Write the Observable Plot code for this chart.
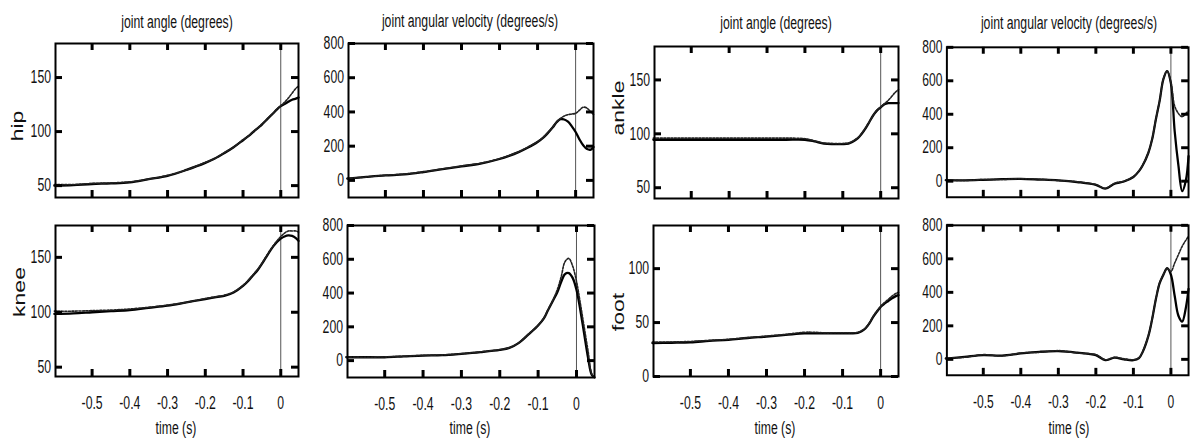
<!DOCTYPE html>
<html>
<head>
<meta charset="utf-8">
<script src="https://cdn.jsdelivr.net/npm/d3@7"></script>
<script src="https://cdn.jsdelivr.net/npm/@observablehq/plot@0.6"></script>
<style>
  body { margin: 0; background: #fff; }
  #root { position: relative; width: 1192px; height: 442px; overflow: hidden; background: #fff;
          font-family: "Liberation Sans", Arial, sans-serif; color: #111; }
  .p { position: absolute; }
  .t { position: absolute; font-size: 18px; white-space: nowrap; line-height: 1;
       transform: translate(-50%, -50%) scaleX(0.68); }
  .r { position: absolute; font-size: 23px; white-space: nowrap; line-height: 1;
       transform: translate(-50%, -50%) rotate(-90deg) scaleY(0.75); }
</style>
</head>
<body>
<div id="root"></div>
<script>
// ---------------- data ----------------
const time = [-0.6, -0.55, -0.5, -0.45, -0.4, -0.35, -0.3, -0.25, -0.2, -0.175, -0.15, -0.125, -0.1, -0.085, -0.075, -0.06, -0.05, -0.04, -0.03, -0.02, -0.01, 0, 0.01, 0.02, 0.03, 0.04, 0.047];

const hipAngleSolid   = [50, 50.5, 51.5, 52, 53, 56, 59, 64.5, 71, 75, 80, 85.5, 92, 96, 99, 103.5, 106.5, 110, 113.5, 117, 120.5, 123.5, 125.5, 127.5, 129.5, 130.5, 131.5];
const hipAngleDotted  = [51, 51, 52, 52.5, 53.5, 56, 59.5, 64.5, 71.5, 75, 80.5, 85.5, 92.5, 96, 99.5, 103.5, 107, 110, 114, 117, 121, 124, 127, 131, 135.5, 140, 142];
const hipVelSolid     = [10, 20, 29, 35, 49, 66, 82, 98, 125, 143, 165, 192, 224, 250, 272, 310, 340, 358, 356, 343, 316, 283, 240, 205, 183, 180, 195];
const hipVelDotted    = [12, 20, 30, 37, 50, 67, 84, 100, 127, 145, 167, 195, 226, 252, 275, 312, 342, 362, 376, 384, 388, 392, 410, 428, 422, 400, 385];
const ankleAngleSolid = [94.5, 94.5, 94.5, 94.5, 94.5, 94.5, 94.5, 94.5, 94.5, 93, 91, 90.5, 90.5, 91, 92.5, 96, 100, 105, 111, 117, 121.5, 124.5, 127.5, 128.5, 128.5, 128.5, 128.5];
const ankleAngleDotted= [96, 96, 96, 96, 96, 96, 96, 96, 95.5, 93.5, 91.5, 91, 91, 91.5, 93, 96.5, 100.5, 105.5, 111, 117, 122, 125, 128, 131, 135, 139, 141];
const ankleVelSolid   = [6, 5, 8, 12, 14, 10, 5, -5, -22, -45, -15, -2, 25, 60, 95, 170, 250, 370, 480, 610, 658, 585, 300, 94, -60, 6, 150];
const ankleVelDotted  = [8, 4, 10, 10, 15, 12, 4, -3, -20, -42, -12, 0, 27, 62, 97, 172, 252, 372, 482, 612, 660, 590, 450, 405, 385, 405, 420];
const kneeAngleSolid  = [98.5, 99, 100, 101, 102, 104, 106, 109, 112, 113.5, 115, 118, 124, 129, 133, 139, 144, 149.5, 155, 160, 164, 167, 169, 170, 169.5, 167.5, 165];
const kneeAngleDotted = [101, 101, 101.5, 102, 103, 104.5, 106.5, 109, 112.5, 114, 115.5, 118.5, 124.5, 129.5, 133.5, 139.5, 144.5, 150, 155.5, 160.5, 165, 169, 172, 174, 174, 174, 173];
const kneeVelSolid    = [20, 20, 20, 25, 30, 32, 40, 50, 63, 75, 105, 155, 208, 250, 295, 360, 405, 465, 512, 518, 490, 420, 300, 160, 20, -85, -99];
const kneeVelDotted   = [22, 20, 22, 26, 31, 34, 41, 52, 65, 77, 107, 157, 210, 252, 298, 365, 420, 495, 585, 605, 560, 470, 340, 200, 60, -80, -99];
const footAngleSolid  = [31, 31.3, 31.7, 33, 34, 35.7, 37, 38.5, 40, 40, 40, 40, 40, 40, 40, 40.5, 42, 44.5, 49, 55, 60, 64.5, 67.5, 70, 72.5, 74.5, 75.5];
const footAngleDotted = [32, 32, 32.5, 33.5, 34.5, 36, 37.5, 39, 41, 41, 40.5, 40.5, 40.5, 40.5, 40.5, 41, 42.5, 45, 49.5, 55.5, 60.5, 65, 68.5, 71.5, 74.5, 77, 78];
const footVelSolid    = [5, 15, 25, 22, 35, 45, 49, 40, 25, -5, 10, 0, -5, 8, 45, 140, 240, 360, 455, 505, 545, 505, 380, 260, 225, 310, 420];
const footVelDotted   = [8, 12, 28, 20, 38, 42, 52, 38, 28, -2, 12, 3, -2, 10, 48, 142, 242, 362, 457, 508, 540, 525, 575, 625, 675, 712, 735];

const xTicks = [-0.5, -0.4, -0.3, -0.2, -0.1, 0];
const xTickLabels = ["-0.5", "-0.4", "-0.3", "-0.2", "-0.1", "0"];
const angleTicks = [50, 100, 150];
const footTicks = [0, 50, 100];
const velTicks = [0, 200, 400, 600, 800];
const eventTime = [0];

const columnTitles = ["joint angle (degrees)", "joint angular velocity (degrees/s)", "joint angle (degrees)", "joint angular velocity (degrees/s)"];
const rowLabels = ["hip", "knee", "ankle", "foot"];
const xLabel = "time (s)";

// ---------------- layout ----------------
const root = document.getElementById("root");
const FONT = '"Liberation Sans", Arial, sans-serif';
const xDomain = [-0.597, 0.047];

const panels = [
  {left: 55,  right: 298,  top: 43,  bottom: 197, y: [39, 181.5], ticks: angleTicks, s: hipAngleSolid,   d: hipAngleDotted,   bottomRow: false},
  {left: 348, right: 593,  top: 43,  bottom: 197, y: [-100, 800], ticks: velTicks,   s: hipVelSolid,     d: hipVelDotted,     bottomRow: false},
  {left: 654, right: 898,  top: 46,  bottom: 198, y: [40, 181],   ticks: angleTicks, s: ankleAngleSolid, d: ankleAngleDotted, bottomRow: false},
  {left: 947, right: 1192, top: 47,  bottom: 199, y: [-96, 800],  ticks: velTicks,   s: ankleVelSolid,   d: ankleVelDotted,   bottomRow: false},
  {left: 55,  right: 298,  top: 225, bottom: 376, y: [41.5, 179], ticks: angleTicks, s: kneeAngleSolid,  d: kneeAngleDotted,  bottomRow: true},
  {left: 347, right: 594,  top: 225, bottom: 377, y: [-100, 800], ticks: velTicks,   s: kneeVelSolid,    d: kneeVelDotted,    bottomRow: true},
  {left: 653, right: 898,  top: 225, bottom: 376, y: [0, 140],    ticks: footTicks,  s: footAngleSolid,  d: footAngleDotted,  bottomRow: true},
  {left: 947, right: 1192, top: 225, bottom: 377, y: [-95, 800],  ticks: velTicks,   s: footVelSolid,    d: footVelDotted,    bottomRow: true}
];

function squeeze(svg, sx) {
  svg.querySelectorAll('g[aria-label$="tick label"] text').forEach(t => {
    const bb = t.getBBox();
    const anchor = getComputedStyle(t).getPropertyValue("text-anchor");
    const ax = anchor === "end" ? bb.x + bb.width : anchor === "start" ? bb.x : bb.x + bb.width / 2;
    const tr = t.getAttribute("transform") || "";
    t.setAttribute("transform", `${tr} translate(${ax},0) scale(${sx},1) translate(${-ax},0)`);
  });
}

const TICK = 7; // inward tick length from the frame line

panels.forEach(p => {
  const ml = 45, mr = 4, mt = 12, mb = p.bottomRow ? 45 : 4;
  const W = p.right - p.left, H = p.bottom - p.top;
  const rows = time.filter(t => t >= xDomain[0] - 0.01).map((t, i) => ({t, s: p.s[i], d: p.d[i]}));
  const marks = [
    Plot.ruleX(eventTime, {stroke: "#555", strokeWidth: 1}),
    Plot.line(rows, {x: "t", y: "s", stroke: "#000", strokeWidth: 2.3, curve: "catmull-rom"}),
    Plot.line(rows, {x: "t", y: "d", stroke: "#222", strokeWidth: 1.6, strokeDasharray: "2,1.5", curve: "catmull-rom"}),
    Plot.frame({stroke: "#000", strokeWidth: 2}),
    // inward tick marks on all four sides, drawn over the frame
    Plot.ruleY(p.ticks, {insetRight: W - TICK, stroke: "#000", strokeWidth: 3}),
    Plot.ruleY(p.ticks, {insetLeft: W - TICK, stroke: "#000", strokeWidth: 3}),
    Plot.ruleX(xTicks, {insetBottom: H - TICK, stroke: "#000", strokeWidth: 3}),
    Plot.ruleX(xTicks, {insetTop: H - TICK, stroke: "#000", strokeWidth: 3}),
    Plot.axisY(p.ticks, {anchor: "left", tickSize: 0, tickPadding: 4.5, fontSize: 18, label: null, tickFormat: d => String(d)})
  ];
  if (p.bottomRow) {
    marks.push(Plot.axisX(xTicks, {anchor: "bottom", tickSize: 0, tickPadding: 20, fontSize: 18, label: null,
      tickFormat: d => xTickLabels[xTicks.indexOf(d)]}));
  }
  const svg = Plot.plot({
    width: W + ml + mr,
    height: H + mt + mb,
    marginLeft: ml, marginRight: mr, marginTop: mt, marginBottom: mb,
    x: {domain: xDomain, axis: null},
    y: {domain: p.y, axis: null},
    style: {fontFamily: FONT, fontSize: "18px", background: "transparent", overflow: "visible"},
    marks
  });
  const holder = document.createElement("div");
  holder.className = "p";
  holder.style.left = (p.left - ml) + "px";
  holder.style.top = (p.top - mt) + "px";
  holder.appendChild(svg);
  root.appendChild(holder);
  squeeze(svg, 0.68);
});

// titles, row labels, x labels
const titlePos = [[177, 21.5], [470, 21], [776, 23], [1069, 22.5]];
columnTitles.forEach((txt, i) => {
  const d = document.createElement("div");
  d.className = "t";
  d.textContent = txt;
  d.style.left = titlePos[i][0] + "px";
  d.style.top = titlePos[i][1] + "px";
  root.appendChild(d);
});
const rowPos = [[17, 126], [19, 292], [618, 108], [618, 312]];
rowLabels.forEach((txt, i) => {
  const d = document.createElement("div");
  d.className = "r";
  d.textContent = txt;
  d.style.left = rowPos[i][0] + "px";
  d.style.top = rowPos[i][1] + "px";
  root.appendChild(d);
});
[176, 470, 775, 1069].forEach(x => {
  const d = document.createElement("div");
  d.className = "t";
  d.textContent = xLabel;
  d.style.left = x + "px";
  d.style.top = "428px";
  root.appendChild(d);
});
</script>
</body>
</html>
